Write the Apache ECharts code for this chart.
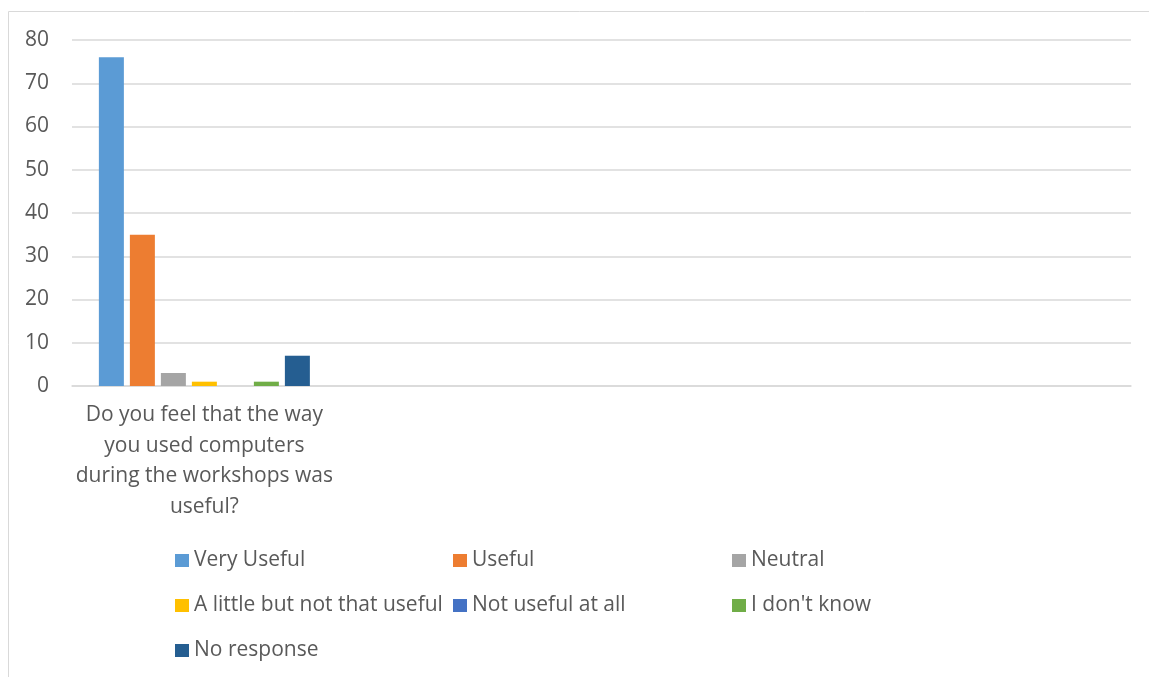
<!DOCTYPE html>
<html>
<head>
<meta charset="utf-8">
<title>Workshop computers</title>
<script src="https://cdn.jsdelivr.net/npm/echarts@6/dist/echarts.min.js"></script>
<style>
  html, body { margin: 0; padding: 0; background: #fff; }
  #main { width: 1149px; height: 677px; }
</style>
</head>
<body>
<div id="main"></div>
<script>
// one question, three empty slots after it (as in the original sheet)
var categories = [
  "Do you feel that the way\nyou used computers\nduring the workshops was\nuseful?",
  "", "", ""
];
var seriesNames = [
  "Very Useful", "Useful", "Neutral", "A little but not that useful",
  "Not useful at all", "I don't know", "No response"
];
var seriesValues = [76, 35, 3, 1, 0, 1, 7];
var colors = ["#5b9bd5", "#ed7d31", "#a5a5a5", "#ffc000", "#4472c4", "#70ad47", "#255e91"];
var yTicks = { min: 0, max: 80, interval: 10 };

var font = "'Open Sans', sans-serif";
var textColor = "#595959";

var series = seriesNames.map(function (name, i) {
  return {
    name: name,
    type: "bar",
    barWidth: 25,
    barGap: "24%",
    itemStyle: { color: colors[i] },
    data: [seriesValues[i], null, null, null]
  };
});

function legendCol(names, left) {
  return {
    orient: "vertical",
    left: left,
    top: 550,
    padding: 0,
    itemGap: 24,
    itemWidth: 14,
    itemHeight: 13,
    icon: "rect",
    selectedMode: false,
    data: names,
    textStyle: { fontFamily: font, fontSize: 21, color: textColor }
  };
}

var chart = echarts.init(document.getElementById("main"));
chart.setOption({
  animation: false,
  color: colors,
  graphic: [{
    type: "rect",
    shape: { x: 8.5, y: 11.5, width: 1160, height: 700 },
    style: { fill: null, stroke: "#d9d9d9", lineWidth: 1 },
    silent: true
  }],
  grid: { left: 72, right: 18, top: 40, bottom: 291 },
  legend: [
    legendCol(["Very Useful", "A little but not that useful", "No response"], 175),
    legendCol(["Useful", "Not useful at all"], 453),
    legendCol(["Neutral", "I don't know"], 732)
  ],
  xAxis: {
    type: "category",
    data: categories,
    axisLine: { lineStyle: { color: "#d9d9d9", width: 1.5 } },
    axisTick: { show: false },
    axisLabel: {
      interval: 0,
      margin: 14,
      lineHeight: 30.5,
      fontFamily: font,
      fontSize: 21,
      color: textColor,
      align: "center"
    }
  },
  yAxis: {
    type: "value",
    min: yTicks.min,
    max: yTicks.max,
    interval: yTicks.interval,
    axisLine: { show: false },
    axisTick: { show: false },
    splitLine: { lineStyle: { color: "#d9d9d9", width: 1.5 } },
    axisLabel: { margin: 23, fontFamily: font, fontSize: 21, color: textColor }
  },
  series: series
});
</script>
</body>
</html>
